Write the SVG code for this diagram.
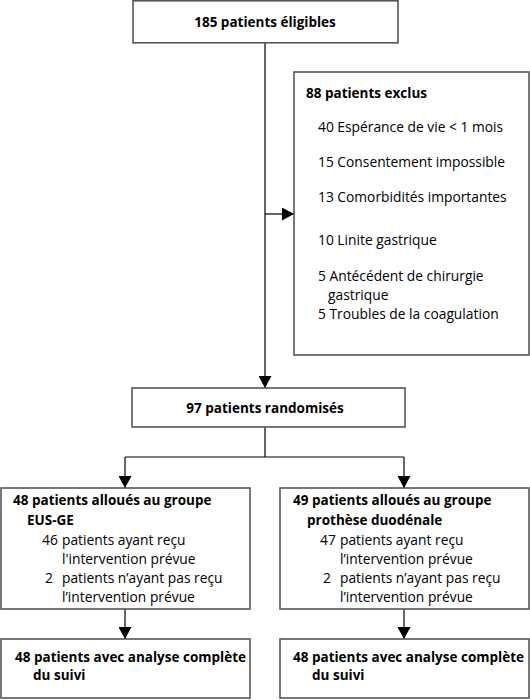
<svg xmlns="http://www.w3.org/2000/svg" width="530" height="700" viewBox="0 0 530 700">
<defs>
<marker id="ah" markerUnits="userSpaceOnUse" markerWidth="13" markerHeight="13" viewBox="0 0 13 13" refX="12" refY="6.5" orient="auto">
<path d="M0,0 L12,6.5 L0,13 Z" fill="#000"/>
</marker>
<style>
.box{fill:#fff;stroke:#555;stroke-width:1.6}
.con{fill:none;stroke:#000;stroke-width:1.2}
text{font-family:"Open Sans","Noto Sans","Liberation Sans",sans-serif;font-size:13.8px;fill:#000}
.b{font-weight:bold;font-size:13.5px}
.c{text-anchor:middle}
</style>
</defs>
<rect width="530" height="700" fill="#fff"/>
<g id="connectors">
<line class="con" x1="265" y1="43" x2="265" y2="388" marker-end="url(#ah)"/>
<line class="con" x1="265" y1="214" x2="294" y2="214" marker-end="url(#ah)"/>
<polyline class="con" points="265,427 265,457"/>
<polyline class="con" points="125,457 404,457"/>
<line class="con" x1="125" y1="457" x2="125" y2="488" marker-end="url(#ah)"/>
<line class="con" x1="404" y1="457" x2="404" y2="488" marker-end="url(#ah)"/>
<line class="con" x1="125" y1="609" x2="125" y2="639" marker-end="url(#ah)"/>
<line class="con" x1="404" y1="609" x2="404" y2="639" marker-end="url(#ah)"/>
</g>
<g id="eligibles">
<rect class="box" x="133" y="0.8" width="265" height="42"/>
<text class="b c" x="265" y="27">185 patients éligibles</text>
</g>
<g id="exclus">
<rect class="box" x="294" y="72" width="235" height="283"/>
<text class="b" x="306" y="98">88 patients exclus</text>
<text x="318" y="132">40 Espérance de vie &lt; 1 mois</text>
<text x="318" y="167">15 Consentement impossible</text>
<text x="318" y="202">13 Comorbidités importantes</text>
<text x="318" y="245">10 Linite gastrique</text>
<text x="318" y="281">5 Antécédent de chirurgie</text>
<text x="328" y="300">gastrique</text>
<text x="318" y="319">5 Troubles de la coagulation</text>
</g>
<g id="randomises">
<rect class="box" x="132" y="388" width="273" height="39"/>
<text class="b c" x="265" y="413">97 patients randomisés</text>
</g>
<g id="groupe-eusge">
<rect class="box" x="1" y="488" width="249" height="121"/>
<text class="b" x="13" y="505">48 patients alloués au groupe</text>
<text class="b" x="27" y="525">EUS-GE</text>
<text x="42" y="545">46</text>
<text x="62" y="545">patients ayant reçu</text>
<text x="62" y="564">l'intervention prévue</text>
<text x="45" y="583">2</text>
<text x="62" y="583">patients n’ayant pas reçu</text>
<text x="62" y="602">l’intervention prévue</text>
</g>
<g id="groupe-prothese">
<rect class="box" x="280" y="488" width="249" height="121"/>
<text class="b" x="293" y="505">49 patients alloués au groupe</text>
<text class="b" x="307" y="525">prothèse duodénale</text>
<text x="320" y="545">47</text>
<text x="340" y="545">patients ayant reçu</text>
<text x="340" y="564">l’intervention prévue</text>
<text x="323" y="583">2</text>
<text x="340" y="583">patients n’ayant pas reçu</text>
<text x="340" y="602">l’intervention prévue</text>
</g>
<g id="suivi-eusge">
<rect class="box" x="1" y="639" width="249" height="59"/>
<text class="b" x="15" y="662">48 patients avec analyse complète</text>
<text class="b" x="33" y="680">du suivi</text>
</g>
<g id="suivi-prothese">
<rect class="box" x="280" y="639" width="249" height="59"/>
<text class="b" x="293" y="662">48 patients avec analyse complète</text>
<text class="b" x="312" y="680">du suivi</text>
</g>
</svg>
